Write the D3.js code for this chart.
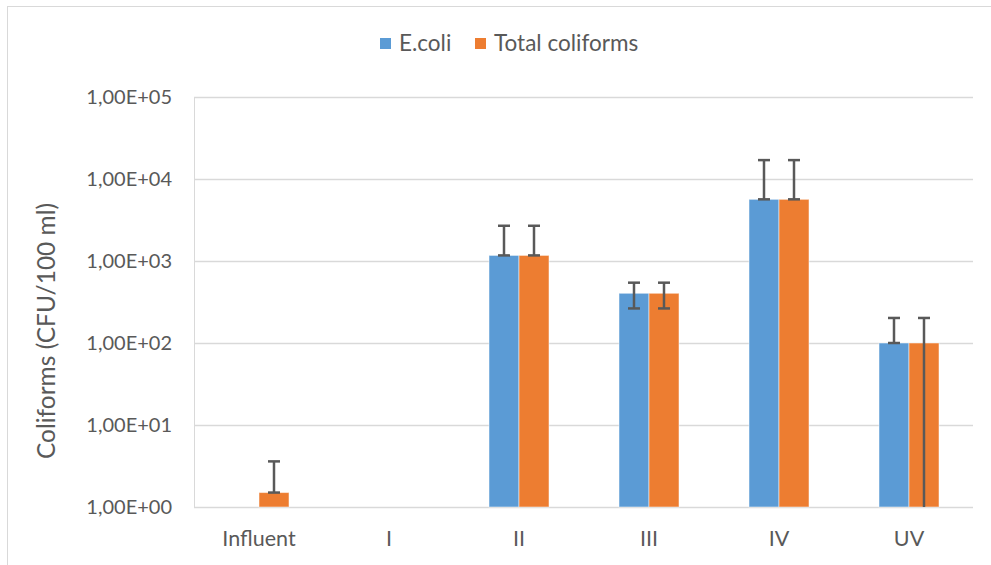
<!DOCTYPE html>
<html>
<head>
<meta charset="utf-8">
<script src="https://cdn.jsdelivr.net/npm/d3@7"></script>
<style>
body { margin: 0; background: #fff; }
text { font-family: Lato, "Open Sans", sans-serif; fill: #595959; }
</style>
</head>
<body>
<svg width="991" height="565"></svg>
<script>
var categories = ["Influent", "I", "II", "III", "IV", "UV"];
var seriesNames = ["E.coli", "Total coliforms"];
var seriesColors = ["#5b9bd5", "#ed7d31"];

// null = no bar shown
var ecoli      = [null, null, 1170, 404, 5650, 100];
var ecoliPlus  = [null, null, 1520, 140, 11350, 102];
var ecoliMinus = [null, null, 0, 140, 0, 0];

var total      = [1.5, null, 1170, 404, 5650, 100];
var totalPlus  = [2.1, null, 1520, 140, 11350, 102];
var totalMinus = [0, null, 0, 140, 0, 99];

var yTicks = [1, 10, 100, 1000, 10000, 100000];
var yTickLabels = ["1,00E+00", "1,00E+01", "1,00E+02", "1,00E+03", "1,00E+04", "1,00E+05"];

var svg = d3.select("svg");

// outer chart frame
svg.append("rect")
	.attr("x", 7.5).attr("y", 6.5)
	.attr("width", 1000).attr("height", 600)
	.attr("fill", "none")
	.attr("stroke", "#d9d9d9");

var plotLeft = 194, plotRight = 974, plotTop = 97, plotBottom = 507;

var x = d3.scaleBand()
	.domain(categories)
	.range([plotLeft, plotRight]);

var y = d3.scaleLog()
	.domain([1, 100000])
	.range([plotBottom, plotTop]);

var barW = 30;

// gridlines
svg.append("g")
	.selectAll("line")
	.data(yTicks)
	.enter().append("line")
		.attr("x1", plotLeft).attr("x2", plotRight - 1)
		.attr("y1", function(d) { return Math.round(y(d)) + 0.5; })
		.attr("y2", function(d) { return Math.round(y(d)) + 0.5; })
		.attr("stroke", "#d9d9d9")
		.attr("stroke-width", 1.3);

svg.append("line")
	.attr("x1", plotLeft + 0.5).attr("x2", plotLeft + 0.5)
	.attr("y1", y(100000)).attr("y2", y(1))
	.attr("stroke", "#d9d9d9");

// y axis labels
svg.append("g")
	.selectAll("text")
	.data(yTicks)
	.enter().append("text")
		.attr("x", 172)
		.attr("y", function(d) { return y(d) + 7; })
		.attr("text-anchor", "end")
		.attr("font-size", 20)
		.text(function(d, i) { return yTickLabels[i]; });

svg.append("text")
	.attr("transform", "translate(55,331) rotate(-90)")
	.attr("text-anchor", "middle")
	.attr("font-size", 24.5)
	.text("Coliforms (CFU/100 ml)");

// x labels
svg.append("g")
	.selectAll("text")
	.data(categories)
	.enter().append("text")
		.attr("x", function(d) { return x(d) + x.bandwidth() / 2; })
		.attr("y", 546)
		.attr("text-anchor", "middle")
		.attr("font-size", 21.5)
		.text(function(d) { return d; });

var series = [
	{ name: seriesNames[0], color: seriesColors[0], values: ecoli, plus: ecoliPlus, minus: ecoliMinus, off: -barW },
	{ name: seriesNames[1], color: seriesColors[1], values: total, plus: totalPlus, minus: totalMinus, off: 0 }
];

series.forEach(function(s) {
	var data = categories.map(function(c, i) {
		return { cat: c, v: s.values[i], p: s.plus[i], m: s.minus[i] };
	}).filter(function(d) { return d.v != null; });

	svg.append("g")
		.selectAll("rect")
		.data(data)
		.enter().append("rect")
			.attr("x", function(d) { return x(d.cat) + x.bandwidth() / 2 + s.off; })
			.attr("width", barW)
			.attr("y", function(d) { return y(d.v); })
			.attr("height", function(d) { return y(1) - y(d.v); })
			.attr("fill", s.color)
			.attr("stroke", "#fff")
			.attr("stroke-opacity", 0.5)
			.attr("stroke-width", 1);

	var eb = svg.append("g").selectAll("g")
		.data(data)
		.enter().append("g")
			.attr("stroke", "#595959")
			.attr("stroke-width", 2.5);

	var cx = function(d) { return x(d.cat) + x.bandwidth() / 2 + s.off + barW / 2; };
	var lo = function(d) { return y(Math.max(1, d.v - d.m)); };

	eb.append("line")
		.attr("x1", cx).attr("x2", cx)
		.attr("y1", function(d) { return y(d.v + d.p); })
		.attr("y2", lo);
	eb.append("line")
		.attr("x1", function(d) { return cx(d) - 6; })
		.attr("x2", function(d) { return cx(d) + 6; })
		.attr("y1", function(d) { return y(d.v + d.p); })
		.attr("y2", function(d) { return y(d.v + d.p); });
	eb.filter(function(d) { return d.v - d.m > 1; })
		.append("line")
		.attr("x1", function(d) { return cx(d) - 6; })
		.attr("x2", function(d) { return cx(d) + 6; })
		.attr("y1", lo)
		.attr("y2", lo);
});

// legend
var legend = svg.append("g").attr("transform", "translate(380,38)");
var lx = [0, 95];
seriesNames.forEach(function(n, i) {
	legend.append("rect")
		.attr("x", lx[i]).attr("y", 0)
		.attr("width", 11).attr("height", 11)
		.attr("fill", seriesColors[i]);
	legend.append("text")
		.attr("x", lx[i] + 19).attr("y", 13)
		.attr("font-size", 22.5)
		.text(n);
});
</script>
</body>
</html>
